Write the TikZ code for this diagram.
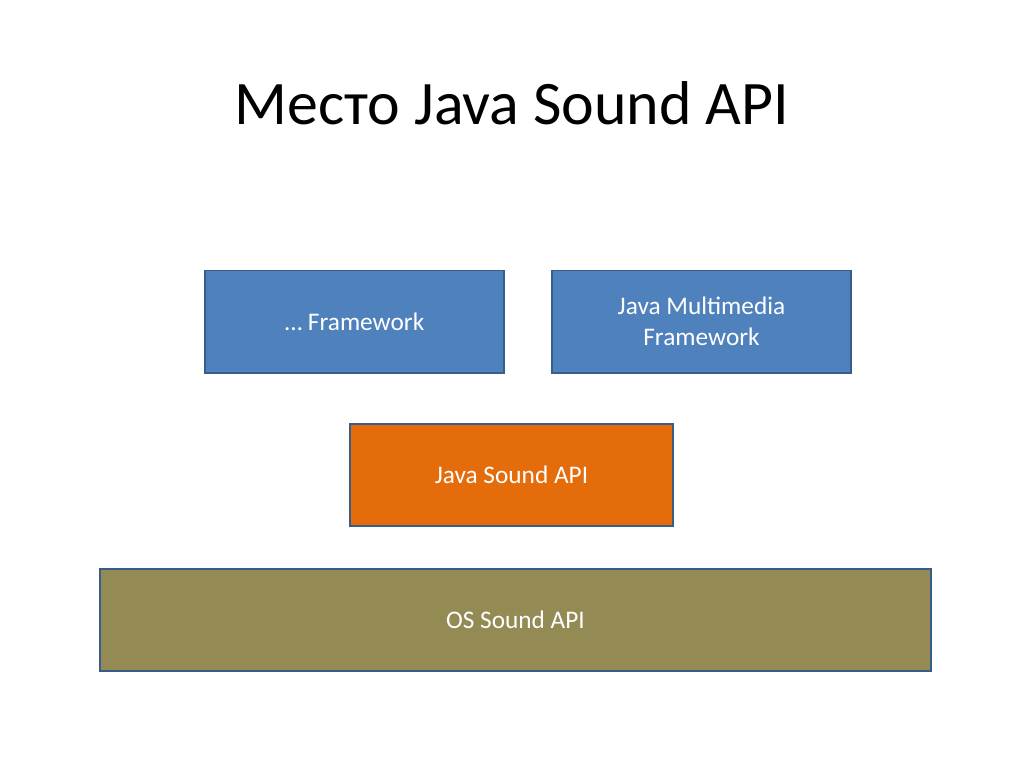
\documentclass[tikz,border=0pt]{standalone}
\usepackage{fontspec}
\setmainfont{Carlito}
\usetikzlibrary{positioning}

\definecolor{slideblue}{HTML}{4F81BD}
\definecolor{slideorange}{HTML}{E46C0A}
\definecolor{slideolive}{HTML}{948A54}
\definecolor{boxline}{HTML}{385D8A}

\tikzset{
  layer/.style={draw=boxline, line width=1.4pt, inner sep=0pt, align=center,
    text=white, font=\fontsize{18}{22}\selectfont, minimum height=2.55cm},
}

\begin{document}
\begin{tikzpicture}[x=0.025cm, y=-0.025cm]
      \useasboundingbox[fill=white] (0,0) rectangle (1024,768);
      \node[font=\fontsize{44}{50}\selectfont] (title) at (512,103) {Место Java Sound API};
      \node[layer, fill=slideblue, minimum width=7.475cm] (fw) at (354.5,321.5) {… Framework};
      \node[layer, fill=slideblue, minimum width=7.475cm] (jmf) at (701.5,321.5) {Java Multimedia\\Framework};
      \node[layer, fill=slideorange, minimum width=8.075cm] (jsa) at (511.5,475) {Java Sound API};
      \node[layer, fill=slideolive, minimum width=20.775cm] (os) at (515.5,620) {OS Sound API};
\end{tikzpicture}
\end{document}
